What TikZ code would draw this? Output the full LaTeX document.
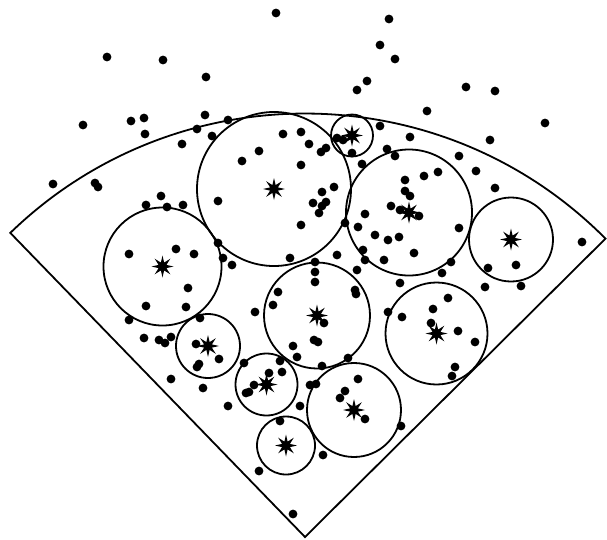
\documentclass[tikz,border=0pt]{standalone}
\usetikzlibrary{shapes.geometric}

\begin{document}
\begin{tikzpicture}[x=1pt,y=-1pt,
  centre/.style={star,star points=8,star point ratio=2.6,minimum size=22pt,inner sep=0pt,fill=black},
  cluster/.style={draw=black,line width=1.8pt}]
  \useasboundingbox (0,0) rectangle (607,539);
  % The fan that is covered, opening upwards from its tip.
  \coordinate (apex) at (305,537);
  \draw[line width=1.8pt] (apex) -- ++(-44.8:423.5)
    arc[start angle=-44.8,end angle=-134.1,radius=423.5] -- cycle;
  % Points outside the fan.
  \foreach \x/\y in {276/13,107/57,163/60,206/77,389/19,380/45,395/59,367/81,357/90,
    466/87,495/91,427/111,545/123,83/125,131/121,144/118,145/134,205/115,228/120,
    197/129,53/184,95/183,98/187,490/140}
    \fill (\x,\y) circle (4.4);
  % Points inside, top half.
  \foreach \x/\y in {212/136,182/144,283/134,301/132,259/151,242/161,301/165,309/144,
    321/152,326/148,337/138,343/140,352/153,380/126,410/137,387/149,395/156,362/164,
    459/156,476/171,438/172,424/176,405/180,334/187,322/192,313/203,322/206,326/202,
    319/213,218/201,301/225,345/223,358/227,183/205,337/255,290/258,218/243,223/258,
    232/265,194/254,315/262,315/272,315/282,357/270,405/191,410/196,391/206,400/210,
    419/216,365/214,375/235,388/240,399/237,459/228,414/253,363/250,365/260,384/260,
    451/262,442/273,495/188,488/268,516/265,582/242,485/287,521/286,161/196,146/205,
    167/207}
    \fill (\x,\y) circle (4.4);
  % Points inside, bottom half.
  \foreach \x/\y in {129/254,176/249,188/288,146/306,186/307,129/320,200/318,144/338,
    159/340,165/343,171/337,196/344,219/359,197/367,199/364,171/379,203/388,228/406,
    255/312,273/305,278/292,293/346,297/357,280/361,269/373,282/372,244/363,254/385,
    246/393,249/392,300/406,310/385,316/384,324/323,314/340,318/342,348/358,322/366,
    355/290,356/294,400/283,448/298,433/309,388/312,402/317,431/323,458/331,475/342,
    455/367,452/376,358/379,345/391,340/398,365/419,401/426,323/455,280/421,259/471,
    293/514}
    \fill (\x,\y) circle (4.4);
  % Cluster centres and their circles.
  \node[centre] (c1) at (274,189) {};
  \node[centre] (c2) at (352,135.5) {};
  \node[centre] (c3) at (409,212.5) {};
  \node[centre] (c4) at (511,239.5) {};
  \node[centre] (c5) at (162.5,266.5) {};
  \node[centre] (c6) at (317,315.5) {};
  \node[centre] (c7) at (436.5,333.5) {};
  \node[centre] (c8) at (208,346) {};
  \node[centre] (c9) at (266.5,384.5) {};
  \node[centre] (c10) at (354,410) {};
  \node[centre] (c11) at (286,445.5) {};
  \draw[cluster] (c1.center) circle (77);
  \draw[cluster] (c2.center) circle (21);
  \draw[cluster] (c3.center) circle (63);
  \draw[cluster] (c4.center) circle (42);
  \draw[cluster] (c5.center) circle (59);
  \draw[cluster] (c6.center) circle (53);
  \draw[cluster] (c7.center) circle (51);
  \draw[cluster] (c8.center) circle (32);
  \draw[cluster] (c9.center) circle (31);
  \draw[cluster] (c10.center) circle (47);
  \draw[cluster] (c11.center) circle (29);
\end{tikzpicture}
\end{document}
